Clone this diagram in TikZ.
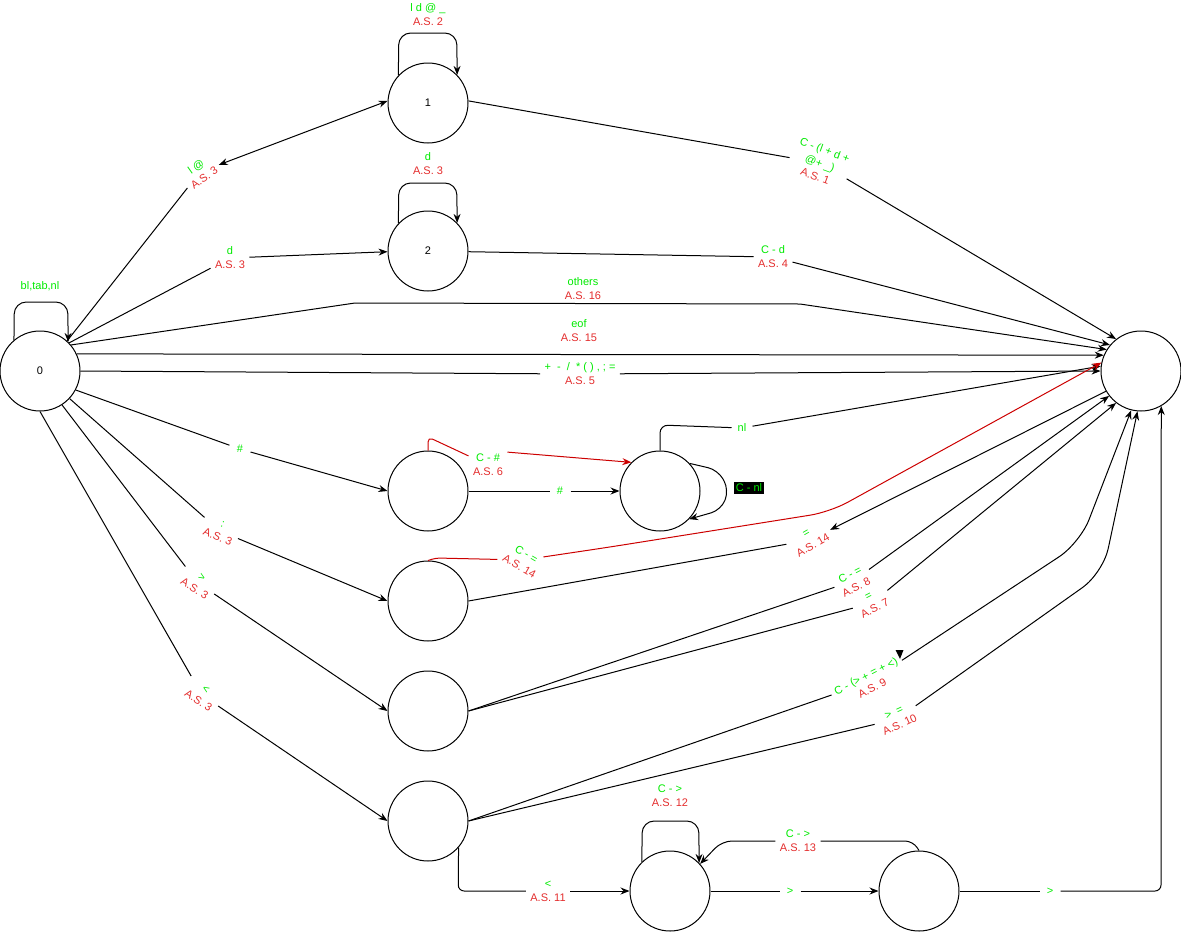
\documentclass[tikz,border=0pt]{standalone}
\usepackage{fontspec}
\setmainfont{Liberation Sans}
\usetikzlibrary{arrows.meta}
\definecolor{gr}{RGB}{0,235,0}
\definecolor{rd}{RGB}{228,45,45}
\definecolor{rl}{RGB}{204,0,0}
\newcommand\twoline[2]{\textcolor{gr}{#1}\\\textcolor{rd}{#2}}
\begin{document}
\begin{tikzpicture}[x=1pt,y=-1pt,line width=1pt,
  font=\fontsize{11}{14}\selectfont,
  st/.style={draw,circle,minimum size=80pt,inner sep=0pt},
  lb/.style={align=center,inner xsep=4pt,inner ysep=1.5pt,fill=white},
  one/.style={lb,text=gr,minimum width=20pt},
  arr/.style={-{Stealth[length=9pt,width=7pt,inset=3pt]}},
  barr/.style={{Stealth[length=9pt,width=7pt,inset=3pt]}-{Stealth[length=9pt,width=7pt,inset=3pt]}}]
\useasboundingbox (0,0) rectangle (1181,932);
% states
\node[st] (n0) at (40,371) {0};
\node[st] (n1) at (428,103) {1};
\node[st] (n2) at (428,251) {2};
\node[st] (nf) at (1141,371) {};
\node[st] (na) at (428,491) {};
\node[st] (nb) at (660,491) {};
\node[st] (nc) at (428,601) {};
\node[st] (nd) at (428,711) {};
\node[st] (ne) at (428,821) {};
\node[st] (nF) at (670,891) {};
\node[st] (ng) at (919,891) {};
% labels
\node[text=gr,align=center] (lL0) at (40,286) {bl,tab,nl};
\node[align=center] (lL1) at (428,15) {\twoline{l d @ \_}{A.S. 2}};
\node[align=center] (lL2) at (428,164) {\twoline{d}{A.S. 3}};
\node[lb,rotate=35] (l01) at (200,172) {\twoline{l @}{A.S. 3}};
\node[lb,rotate=-20] (l1f) at (820,163) {\textcolor{gr}{C - (l + d +}\\\textcolor{gr}{@+ \_)}\\\textcolor{rd}{A.S. 1}};
\node[lb] (l02) at (230,258) {\twoline{d}{A.S. 3}};
\node[lb] (l2f) at (773,257) {\twoline{C - d}{A.S. 4}};
\node[lb] (loth) at (583,289) {\twoline{others}{A.S. 16}};
\node[lb] (leof) at (579,331) {\twoline{eof}{A.S. 15}};
\node[lb] (lops) at (580,374) {\twoline{+ \ - \ / \ * ( ) , ; =}{A.S. 5}};
\node[one] (lhash) at (240,449) {\#};
\node[lb] (l6) at (488,465) {\twoline{C - \#}{A.S. 6}};
\node[one] (lhb) at (560,491) {\#};
\node[one] (lnl) at (742,428) {nl};
\node[fill=black,text=gr,inner sep=1.5pt] (lcnl) at (749,488) {C - nl};
\node[lb,rotate=-22] (l0c) at (220,531) {\twoline{:}{A.S. 3}};
\node[lb,rotate=-30] (l14) at (523,560) {\twoline{C - =}{A.S. 14}};
\node[lb,rotate=30] (lfc) at (810,540) {\twoline{=}{A.S. 14}};
\node[lb,rotate=-32] (l0d) at (198,583) {\twoline{>}{A.S. 3}};
\node[lb,rotate=27] (ld8) at (853,581) {\twoline{C - =}{A.S. 8}};
\node[lb,rotate=27] (ld7) at (872,603) {\twoline{=}{A.S. 7}};
\node[lb,rotate=-33] (l0e) at (202,695) {\twoline{<}{A.S. 3}};
\node[lb,rotate=27] (le9) at (869,682) {\twoline{C - (> + = + <)}{A.S. 9}};
\node[lb,rotate=25] (le10) at (897,719) {\twoline{> \ =}{A.S. 10}};
\node[lb] (l11) at (548,891) {\twoline{<}{A.S. 11}};
\node[align=center] (l12) at (670,796) {\twoline{C - >}{A.S. 12}};
\node[lb] (l13) at (798,841) {\twoline{C - >}{A.S. 13}};
\node[one] (lfg) at (790,891) {>};
\node[one] (lgf) at (1050,891) {>};
% self loops
\draw[arr,rounded corners=12pt] (n0.130) -- (14.3,302) -- (67.8,302) -- (n0.46);
\draw[arr,rounded corners=12pt] (n1.137) -- (398.75,33) -- (456.8,33) -- (n1.44);
\draw[arr,rounded corners=12pt] (n2.137) -- (398.75,183) -- (456.8,183) -- (n2.44);
\draw[arr,rounded corners=12pt] (nF.134) -- (642.2,821) -- (698.8,821) -- (nF.44);
\draw[arr,rounded corners=10pt] (nb.43) -- (718,470) -- (729,490) -- (721,510) -- (nb.-44);
% from 0
\draw (n0.48) -- (l01);
\draw[barr] (l01) -- (n1.177);
\draw (n0.44) -- (l02);
\draw[arr] (l02) -- (n2.181);
\draw[arr] (n0.40) -- (355,303) -- (800,304) -- (nf.148);
\draw[arr] (n0.25) -- (nf.157);
\draw (n0.east) -- (lops);
\draw[arr] (lops) -- (nf.180);
\draw (n0.-28) -- (lhash);
\draw[arr] (lhash) -- (na.west);
\draw (n0.-43) -- (l0c);
\draw[arr] (l0c) -- (nc.west);
\draw (n0.-57) -- (l0d);
\draw[arr] (l0d) -- (nd.west);
\draw (n0.south) -- (l0e);
\draw[arr] (l0e) -- (ne.west);
% to final
\draw (n1.3) -- (l1f);
\draw[arr] (l1f) -- (nf.128);
\draw (n2.359) -- (l2f);
\draw[arr] (l2f) -- (nf.140);
\draw[rounded corners=8pt] (nb.north) -- (660,425) -- (lnl);
\draw[arr] (lnl) -- (nf.173);
\draw (nd.east) -- (ld8);
\draw[arr] (ld8) -- (nf.218);
\draw (nd.east) -- (ld7);
\draw[arr] (ld7) -- (nf.232);
\draw (ne.east) -- (le9);
\draw[arr,rounded corners=25pt] (le9) -- (1080,543) -- (nf.256);
\draw (ne.east) -- (le10);
\draw[arr,rounded corners=25pt] (le10) -- (1103,573) -- (nf.265);
\draw (ng.east) -- (lgf);
\draw[arr,rounded corners=6pt] (lgf) -- (1161,891) -- (nf.300);
% final to C
\draw (nc.east) -- (lfc);
\draw[arr] (nf.210) -- (lfc);
% red edges
\draw[rl,rounded corners=5pt] (na.north) -- (428,437) -- (l6);
\draw[rl,arr] (l6.north east) -- (nb.135);
\draw[rl,rounded corners=4pt] (nc.north) -- (436,558) -- (l14);
\draw[rl,arr,rounded corners=20pt] (l14) -- (610,547) -- (830,512) -- (nf.168);
% A to B
\draw (na.east) -- (lhb);
\draw[arr] (lhb) -- (nb.west);
% lower chain
\draw[rounded corners=6pt] (ne.-41) -- (458.2,891) -- (l11);
\draw[arr] (l11) -- (nF.west);
\draw (nF.east) -- (lfg);
\draw[arr] (lfg) -- (ng.west);
\draw[rounded corners=8pt] (ng.north) -- (913,841) -- (l13);
\draw[arr,rounded corners=10pt] (l13) -- (722,841) -- (nF.42);
% stray arrowhead
\fill (895.5,650) -- (903.5,650) -- (900,659) -- cycle;
\end{tikzpicture}
\end{document}
